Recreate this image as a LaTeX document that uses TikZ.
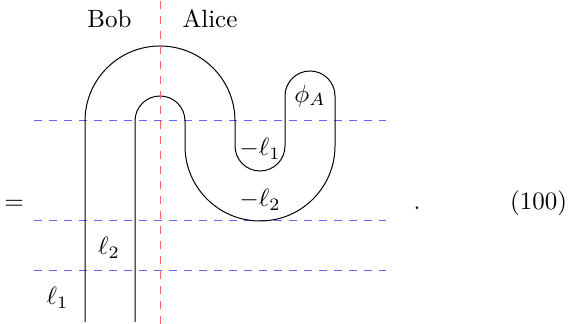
\documentclass[tikz,border=0pt]{standalone}
\usepackage{color}
\usepackage{tikz}
\definecolor{red}{RGB}{255, 100, 100}
\definecolor{blue}{RGB}{100, 100, 255}

\begin{document}
\begin{tikzpicture}[x=0.4pt, y=0.4pt,
        slice/.style={dashed, blue},
        split/.style={dashed, red}]
        \useasboundingbox (0,0) rectangle (568,324);

        % Time slices
        \draw[slice] (34,203) -- (386,203);
        \draw[slice] (34,103) -- (386,103);
        \draw[slice] (34,53) -- (386,53);

        % The bent wire
        \draw (135,2) -- (135,203) arc[start angle=180, end angle=0, radius=25]
              -- (185,178) arc[start angle=180, end angle=360, radius=75]
              -- (335,228) arc[start angle=0, end angle=180, radius=25]
              -- (285,178) arc[start angle=360, end angle=180, radius=25]
              -- (235,203) arc[start angle=0, end angle=180, radius=75]
              -- (85,2);

        % Bob | Alice
        \draw[split] (160,0) -- (160,324);
        \node[anchor=base] (bob) at (109.5,296) {Bob};
        \node[anchor=base] (alice) at (210,296) {Alice};

        % Labels
        \node (phiA) at (310,228) {$\phi_A$};
        \node (mlone) at (260,175) {$-\ell_1$};
        \node (mltwo) at (260,124.5) {$-\ell_2$};
        \node (ltwo) at (109,76.5) {$\ell_2$};
        \node (lone) at (57.5,26.5) {$\ell_1$};

        % Equation
        \node[anchor=base] (eq) at (14,114) {$=$};
        \node[anchor=base] (dot) at (417,114) {$.$};
        \node[anchor=base] (eqno) at (538.5,114) {(100)};
    \end{tikzpicture}
\end{document}
